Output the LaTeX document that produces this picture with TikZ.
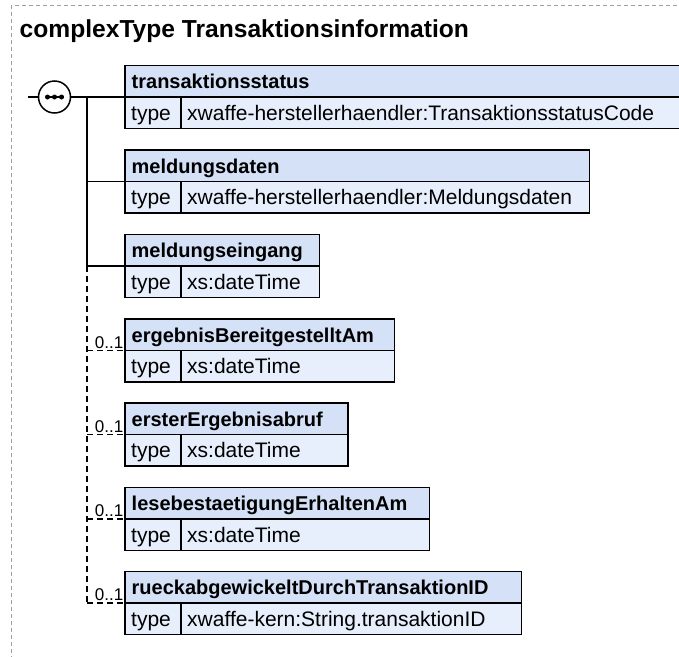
\documentclass[tikz,border=0pt]{standalone}
\usepackage{fontspec}
\setmainfont{Liberation Sans}
\definecolor{hdrfill}{HTML}{D5E1F7}
\definecolor{rowfill}{HTML}{E8EFFC}
\definecolor{framegray}{HTML}{A0A0A0}
\tikzset{
  hdrbox/.style={draw=black, fill=hdrfill, line width=1.5pt, minimum height=31.5pt, inner sep=0pt, outer sep=0pt, anchor=north west},
  rowbox/.style={draw=black, fill=rowfill, line width=1.5pt, minimum height=31.5pt, inner sep=0pt, outer sep=0pt, anchor=north west},
  hdrtext/.style={anchor=base west, inner sep=0pt, font=\fontsize{20}{24}\selectfont\bfseries},
  rowtext/.style={anchor=base west, inner sep=0pt, font=\fontsize{21}{24}\selectfont},
  conn/.style={line width=1.4pt},
  optconn/.style={line width=1.4pt, dash pattern=on 6pt off 4pt},
  card/.style={anchor=south east, inner sep=0pt, font=\fontsize{17}{20}\selectfont},
}
\newcommand{\xsdelem}[5]{%
  \node[hdrbox, minimum width={#3pt-125pt}] (#1) at (125,#2) {};
  \node[hdrtext] (#1t) at ([shift={(6.5,7.3)}]#1.west) {#4};
  \node[rowbox, minimum width=56pt] (#1k) at (#1.south west) {};
  \node[rowtext] (#1kt) at ([shift={(6,7.5)}]#1k.west) {type};
  \node[rowbox, minimum width={#3pt-181pt}] (#1v) at (#1k.north east) {};
  \node[rowtext] (#1vt) at ([shift={(6,7.5)}]#1v.west) {#5};
}
\begin{document}
\begin{tikzpicture}[x=1pt,y=-1pt]
\useasboundingbox (0,0) rectangle (679,656);
\clip (0,0) rectangle (679,656);
\draw[framegray, line width=1pt, dash pattern=on 4pt off 3pt] (11,5) rectangle (720,700);
\node[anchor=base west, inner sep=0pt, font=\fontsize{24.6}{28}\selectfont\bfseries] (title) at (19.5,37) {complexType Transaktionsinformation};

\xsdelem{e1}{65.5}{690}{transaktionsstatus}{xwaffe-herstellerhaendler:TransaktionsstatusCode}
\xsdelem{e2}{150}{589.5}{meldungsdaten}{xwaffe-herstellerhaendler:Meldungsdaten}
\xsdelem{e3}{234.5}{319.5}{meldungseingang}{xs:dateTime}
\xsdelem{e4}{319}{394.5}{ergebnisBereitgestelltAm}{xs:dateTime}
\xsdelem{e5}{403}{348}{ersterErgebnisabruf}{xs:dateTime}
\xsdelem{e6}{487.5}{429.5}{lesebestaetigungErhaltenAm}{xs:dateTime}
\xsdelem{e7}{571.5}{521.5}{rueckabgewickeltDurchTransaktionID}{xwaffe-kern:String.transaktionID}

% sequence compositor
\node[circle, draw=black, fill=white, line width=1.5pt, minimum size=32pt, inner sep=0pt, outer sep=0pt] (seq) at (54.5,97) {};
\coordinate (in) at (28,97);
\coordinate (tr) at (87,97);
\draw[conn] (in) -- (seq.west);
\draw[conn] (seq.east) -- (e1.south west);
\draw[line width=1.5pt] ([xshift=-9pt]seq.center) -- ([xshift=9pt]seq.center);
\foreach \dx in {-7,0,7}
  \fill ([xshift=\dx pt]seq.center) circle (2.5pt);

% trunk
\draw[conn] (tr) -- (tr |- e3.south west);
\draw[optconn] (tr |- e3.south west) -- (tr |- e7.south west);

% branches
\draw[conn] (tr |- e2.south west) -- (e2.south west);
\draw[conn] (tr |- e3.south west) -- (e3.south west);
\foreach \e in {e4,e5,e6,e7}{
  \draw[optconn] (tr |- \e.south west) -- (\e.south west);
  \node[card] at ([shift={(-1.5,-2)}]\e.south west) {0..1};
}
\end{tikzpicture}
\end{document}
